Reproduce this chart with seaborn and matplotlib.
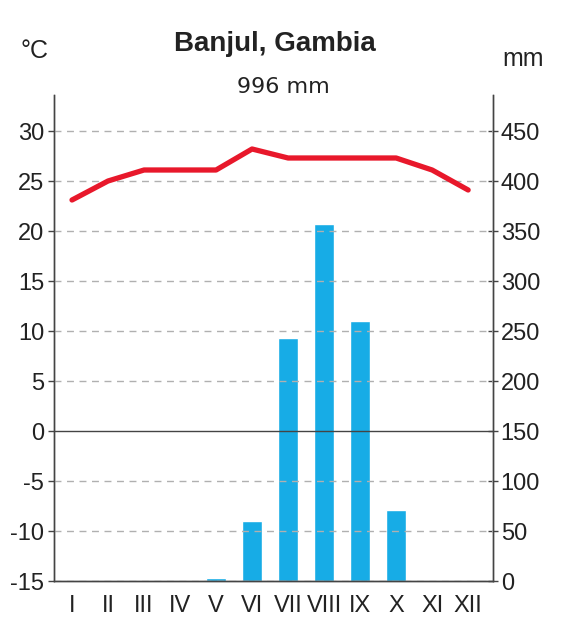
import matplotlib
matplotlib.use("Agg")
import matplotlib.pyplot as plt
import seaborn as sns
import pandas as pd
import numpy as np

months = ["I", "II", "III", "IV", "V", "VI", "VII", "VIII", "IX", "X", "XI", "XII"]
temperature = [23.1, 25.0, 26.1, 26.1, 26.1, 28.2, 27.3, 27.3, 27.3, 27.3, 26.1, 24.1]
precipitation = [0, 1, 0, 0, 3, 60, 243, 357, 260, 71, 0, 1]
temp_ticks = [-15, -10, -5, 0, 5, 10, 15, 20, 25, 30]
prec_ticks = [0, 50, 100, 150, 200, 250, 300, 350, 400, 450]

sns.set_theme(style="white")
narrow = ["Liberation Sans Narrow", "Liberation Sans", "DejaVu Sans"]
plt.rcParams["font.family"] = ["Liberation Sans", "DejaVu Sans"]

df = pd.DataFrame({"month": months, "idx": np.arange(12), "temp": temperature, "prec": precipitation})

fig = plt.figure(figsize=(5.61, 6.25), dpi=100)
ax = fig.add_axes([54/561, 1-581/625, (493-54)/561, (581-95)/625])
ax2 = ax.twinx()

# precipitation bars on right axis
sns.barplot(data=df, x="idx", y="prec", ax=ax2, color="#17ace6", saturation=1, width=0.56)
ax2.set_ylim(0, 486)
ax2.set_yticks(prec_ticks)
ax2.set_yticklabels([str(t) for t in prec_ticks], family=narrow, fontsize=17, color="#222222")
ax2.set_ylabel("")

# temperature on left axis
ax.set_ylim(-15, 33.6)
for t in temp_ticks:
    if t == 0:
        ax.axhline(t, color="#444444", lw=1.0, zorder=1)
    else:
        ax.axhline(t, color="#b0b0b0", lw=1.0, ls=(0, (5, 4)), zorder=1)
ax.set_yticks(temp_ticks)
ax.set_yticklabels([str(t) for t in temp_ticks], family=narrow, fontsize=17, color="#222222")

ax.set_zorder(ax2.get_zorder() + 1)
ax.patch.set_visible(False)
sns.lineplot(data=df, x="idx", y="temp", ax=ax, color="#e8182b", lw=3.8, solid_capstyle="round", solid_joinstyle="round")
xl = (-0.5, 11.69)
ax.set_xlim(*xl)
ax2.set_xlim(*xl)
ax.set_xticks(range(12))
ax.set_xticklabels(months, family=narrow, fontsize=17, color="#222222")
ax.set_xlabel("")
ax.set_ylabel("")

for a in (ax, ax2):
    a.spines["top"].set_visible(False)
    for s in ["left", "right", "bottom"]:
        a.spines[s].set_color("#444444")
        a.spines[s].set_linewidth(1.0)
ax.tick_params(axis="y", left=True, length=4, width=1, color="#444444", pad=3)
ax.tick_params(axis="x", bottom=False, pad=4)
ax2.tick_params(axis="y", right=True, direction="inout", length=7, width=1, color="#444444", pad=2)
ax2.tick_params(axis="x", bottom=False, labelbottom=False)

fig.text(0.49, 0.93, "Banjul, Gambia", ha="center", va="center", fontsize=20, fontweight="bold", color="#222222", family=["Liberation Sans", "DejaVu Sans"])
fig.text(0.505, 0.861, "996 mm", ha="center", va="center", fontsize=16, color="#222222", family=["DejaVu Sans"])
fig.text(0.062, 0.918, "°C", ha="center", va="center", fontsize=18, color="#222222", family=narrow)
fig.text(0.933, 0.906, "mm", ha="center", va="center", fontsize=18, color="#222222", family=narrow)

fig.savefig("out.png", dpi=100, facecolor="white")
